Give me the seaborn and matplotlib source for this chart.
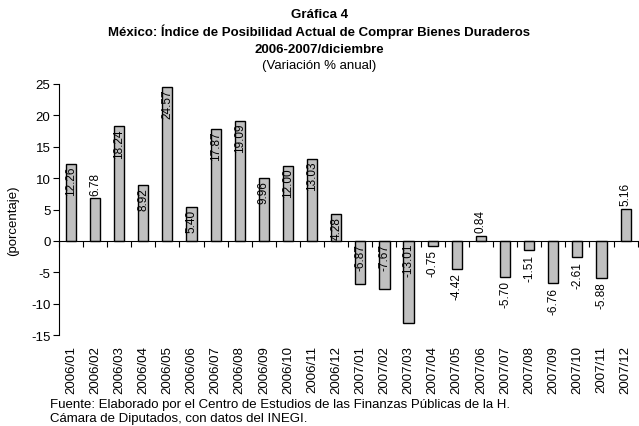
import matplotlib
matplotlib.use("Agg")
import matplotlib.pyplot as plt
import seaborn as sns
import numpy as np
import pandas as pd

periods = ["2006/01", "2006/02", "2006/03", "2006/04", "2006/05", "2006/06",
           "2006/07", "2006/08", "2006/09", "2006/10", "2006/11", "2006/12",
           "2007/01", "2007/02", "2007/03", "2007/04", "2007/05", "2007/06",
           "2007/07", "2007/08", "2007/09", "2007/10", "2007/11", "2007/12"]
values = [12.26, 6.78, 18.24, 8.92, 24.57, 5.40, 17.87, 19.09, 9.96, 12.00, 13.03, 4.28,
          -6.87, -7.67, -13.01, -0.75, -4.42, 0.84, -5.70, -1.51, -6.76, -2.61, -5.88, 5.16]
# where each label sits: inside the bar or outside its end
label_inside = [True, False, True, True, True, True, True, True, True, True, True, True,
                True, True, True, False, False, False, False, False, False, False, False, False]

df = pd.DataFrame({"periodo": periods, "valor": values})

sns.set_style("white")
plt.rcParams["font.family"] = ["Liberation Sans", "DejaVu Sans"]
plt.rcParams["text.color"] = "black"
plt.rcParams["axes.labelcolor"] = "black"
plt.rcParams["xtick.color"] = "black"
plt.rcParams["ytick.color"] = "black"
plt.rcParams["axes.unicode_minus"] = False

fs = 9.5

fig = plt.figure(figsize=(6.39, 4.27), dpi=100)
ax = fig.add_axes([0.092, 0.213, 0.906, 0.588])

sns.barplot(data=df, x="periodo", y="valor", color="#c0c0c0", saturation=1,
            edgecolor="black", linewidth=1, width=0.42, ax=ax)

ax.set_ylim(-15, 25)
ax.set_xlim(-0.5, len(periods) - 0.5)
ax.set_yticks(np.arange(-15, 26, 5))
ax.tick_params(axis="y", labelsize=fs, length=4, width=0.8, direction="out", left=True, pad=2)
ax.set_ylabel("(porcentaje)", fontsize=fs)
ax.yaxis.set_label_coords(-0.068, 0.46)
ax.set_xlabel("")

# category axis crosses at zero, tick marks between categories
for s in ["top", "right"]:
    ax.spines[s].set_visible(False)
ax.spines["left"].set_linewidth(0.8)
ax.spines["left"].set_color("black")
ax.spines["bottom"].set_position(("data", 0))
ax.spines["bottom"].set_linewidth(0.8)
ax.spines["bottom"].set_color("black")
ax.set_xticks(np.arange(len(periods)), labels=[""] * len(periods))
ax.set_xticks(np.arange(len(periods) + 1) - 0.5, minor=True)
ax.tick_params(axis="x", which="major", length=0)
ax.tick_params(axis="x", which="minor", length=4, width=0.8, direction="out", bottom=True)

sec = ax.secondary_xaxis(0.0)
sec.set_xticks(np.arange(len(periods)), labels=periods, rotation=90, fontsize=fs)
sec.tick_params(length=0, pad=7)
sec.spines["bottom"].set_visible(False)

lfs = 8.5
for i, (v, inside) in enumerate(zip(values, label_inside)):
    txt = f"{v:.2f}"
    if v >= 0:
        if inside:
            ax.text(i, v - 0.3, txt, rotation=90, ha="center", va="top", fontsize=lfs)
        else:
            ax.text(i, v + 0.6, txt, rotation=90, ha="center", va="bottom", fontsize=lfs)
    else:
        if inside:
            ax.text(i, -0.3, txt, rotation=90, ha="center", va="top", fontsize=lfs)
        else:
            ax.text(i, v - 0.6, txt, rotation=90, ha="center", va="top", fontsize=lfs)

fig.text(0.5, 0.966, "Gráfica 4", ha="center", va="center", fontsize=fs, fontweight="bold")
fig.text(0.5, 0.925, "México: Índice de Posibilidad Actual de Comprar Bienes Duraderos",
         ha="center", va="center", fontsize=fs, fontweight="bold")
fig.text(0.5, 0.884, "2006-2007/diciembre", ha="center", va="center", fontsize=fs, fontweight="bold")
fig.text(0.5, 0.845, "(Variación % anual)", ha="center", va="center", fontsize=fs)

fig.text(0.078, 0.052, "Fuente: Elaborado por el Centro de Estudios de las Finanzas Públicas de la H.",
         ha="left", va="center", fontsize=fs)
fig.text(0.078, 0.018, "Cámara de Diputados, con datos del INEGI.", ha="left", va="center", fontsize=fs)

fig.savefig("out.png", dpi=100)
